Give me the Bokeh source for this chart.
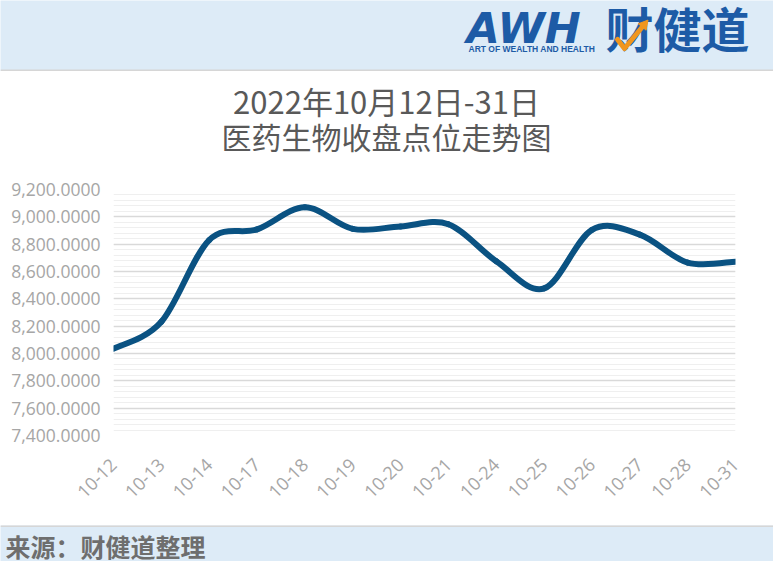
import math
from bokeh.plotting import figure
from bokeh.layouts import column, row
from bokeh.models import (Range1d, SingleIntervalTicker, FixedTicker,
                          NumeralTickFormatter, ColumnDataSource)
from bokeh.core.properties import value
from bokeh.embed import file_html
from bokeh.resources import INLINE

# ---- data ----
dates = ["10-12", "10-13", "10-14", "10-17", "10-18", "10-19", "10-20",
         "10-21", "10-24", "10-25", "10-26", "10-27", "10-28", "10-31"]
close = [8035, 8232, 8830, 8908, 9070, 8912, 8930,
         8946, 8675, 8476, 8905, 8870, 8665, 8672]
y_ticks_start = 7400
y_ticks_end = 9200
y_step = 200

title_line1 = "2022年10月12日-31日"
title_line2 = "医药生物收盘点位走势图"
source_text = "来源：财健道整理"

W = 773
BG = "#DDEBF7"
BLUE = "#1D5BA6"
ORANGE = "#F0961E"
CJK = "Noto Sans CJK SC"


def blank(h, fill):
    f = figure(width=W, height=h, x_range=Range1d(0, W), y_range=Range1d(h, 0),
               toolbar_location=None, output_backend="svg", min_border=0)
    f.axis.visible = False
    f.grid.visible = False
    f.outline_line_color = None
    f.background_fill_color = fill
    f.border_fill_color = fill
    return f


# ---- header with logo ----
hdr = blank(71, BG)
hdr.text(x=[466], y=[27], text=["AWH"],
         text_font=value("DejaVu Sans"), text_font_size="43px",
         text_font_style="bold italic", text_color=BLUE,
         text_align="left", text_baseline="alphabetic")
hdr.text(x=[468], y=[48], text=["ART OF WEALTH AND HEALTH"],
         text_font=value("Liberation Sans"), text_font_size="8.5px",
         text_font_style="bold", text_color=BLUE,
         text_align="left", text_baseline="alphabetic")
hdr.text(x=[677], y=[26], text=["财健道"],
         text_font=value(CJK), text_font_size="48px",
         text_font_style="bold", text_color=BLUE,
         text_align="center", text_baseline="middle")
hdr.line(x=[617, 624, 643], y=[39, 48, 25], line_color=ORANGE,
         line_width=5, line_cap="round", line_join="round")
hdr.patch(x=[647.5, 645.6, 637.8], y=[19.6, 29.7, 23.3],
          fill_color=ORANGE, line_color=ORANGE)
hdr.line(x=[0, W], y=[70, 70], line_color="#D6D6D6", line_width=2)

# ---- title area ----
tfig = blank(100, "white")
tfig.text(x=[386], y=[29], text=[title_line1],
          text_font=value(CJK), text_font_size="31px", text_color="#595959",
          text_align="center", text_baseline="middle")
tfig.text(x=[386], y=[64], text=[title_line2],
          text_font=value(CJK), text_font_size="30px", text_color="#595959",
          text_align="center", text_baseline="middle")

# ---- chart ----
n = len(close)
xs = list(range(n))
p = figure(width=W, height=354, x_range=Range1d(0, n - 1),
           y_range=Range1d(y_ticks_start, y_ticks_end),
           toolbar_location=None, output_backend="svg",
           min_border_left=113, min_border_right=38,
           min_border_top=18, min_border_bottom=90)
p.background_fill_color = "white"
p.border_fill_color = "white"
p.outline_line_color = None

p.yaxis.ticker = SingleIntervalTicker(interval=y_step, num_minor_ticks=5)
p.yaxis.formatter = NumeralTickFormatter(format="0,0.0000")
p.xaxis.ticker = FixedTicker(ticks=xs)
p.xaxis.major_label_overrides = {i: d for i, d in enumerate(dates)}
p.xaxis.major_label_orientation = math.pi / 4
for ax in (p.xaxis, p.yaxis):
    ax.axis_line_color = None
    ax.major_tick_line_color = None
    ax.minor_tick_line_color = None
    ax.major_label_text_font = "Open Sans"
    ax.major_label_text_color = "#A6A6A6"
p.yaxis.major_label_text_font_size = "17.5px"
p.xaxis.major_label_text_font_size = "18px"
p.yaxis.major_label_standoff = 7
p.xaxis.major_label_standoff = 20

p.xgrid.visible = False
p.ygrid.grid_line_color = "#D9D9D9"
p.ygrid.grid_line_width = 1.6
p.ygrid.minor_grid_line_color = "#EFEFEF"
p.ygrid.minor_grid_line_width = 1.2

# smoothed line (Catmull-Rom to cubic Bezier control points)
x0, y0, x1, y1, cx0, cy0, cx1, cy1 = [], [], [], [], [], [], [], []
for i in range(n - 1):
    a = max(i - 1, 0)
    d = min(i + 2, n - 1)
    x0.append(xs[i]); y0.append(close[i])
    x1.append(xs[i + 1]); y1.append(close[i + 1])
    cx0.append(xs[i] + (xs[i + 1] - xs[a]) / 6)
    cy0.append(close[i] + (close[i + 1] - close[a]) / 6)
    cx1.append(xs[i + 1] - (xs[d] - xs[i]) / 6)
    cy1.append(close[i + 1] - (close[d] - close[i]) / 6)
src = ColumnDataSource(dict(x0=x0, y0=y0, x1=x1, y1=y1,
                            cx0=cx0, cy0=cy0, cx1=cx1, cy1=cy1))
p.bezier(x0="x0", y0="y0", x1="x1", y1="y1", cx0="cx0", cy0="cy0",
         cx1="cx1", cy1="cy1", source=src, line_color="#0A5282",
         line_width=6, line_cap="round")

# ---- footer ----
ftr = blank(36, BG)
ftr.line(x=[0, W], y=[0.5, 0.5], line_color="#D6D6D6", line_width=2)
ftr.text(x=[5], y=[20], text=[source_text],
         text_font=value(CJK), text_font_size="25px", text_font_style="bold",
         text_color="#6E6E6E", text_align="left", text_baseline="middle")

layout = column(row(hdr), row(tfig), p, row(ftr), spacing=0)
open("out.html", "w").write(file_html(layout, INLINE))
